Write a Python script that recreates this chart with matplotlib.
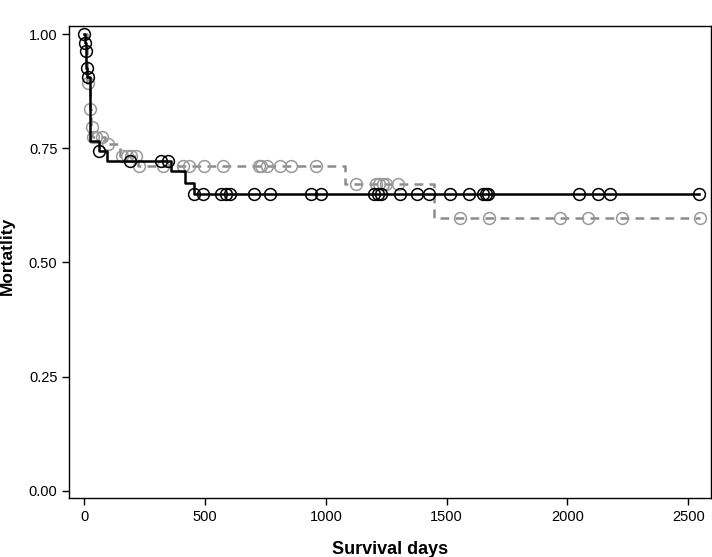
import matplotlib
matplotlib.use("Agg")
import matplotlib.pyplot as plt
import numpy as np

plt.rcParams['font.family'] = ['Liberation Sans', 'DejaVu Sans']

# group 1 (solid black): step times / survival after each step
g1_times = [0, 3, 6, 9, 12, 25, 60, 94, 357, 415, 453]
g1_surv = [1.0, 0.981, 0.963, 0.925, 0.905, 0.766, 0.744, 0.723, 0.699, 0.673, 0.65]
g1_end = 2543
g1_censor = [1, 4, 7, 10, 14, 63, 188, 318, 345, 456, 492, 564, 585, 602, 702, 767,
             940, 981, 1200, 1216, 1227, 1307, 1379, 1428, 1513, 1594, 1649, 1662,
             1672, 2047, 2125, 2176, 2543]

# group 2 (dashed grey)
g2_times = [0, 12, 22, 28, 33, 85, 149, 224, 1078, 1446]
g2_surv = [1.0, 0.892, 0.835, 0.797, 0.775, 0.759, 0.733, 0.711, 0.671, 0.597]
g2_end = 2550
g2_censor = [17, 24, 30, 38, 50, 73, 100, 156, 177, 193, 215, 228, 325, 409, 432, 497,
             573, 723, 730, 757, 810, 854, 960, 1124, 1207, 1221, 1235, 1249, 1297,
             1556, 1676, 1971, 2084, 2225, 2550]


def surv_at(times, surv, t):
    idx = np.searchsorted(times, t, side='right') - 1
    return np.array(surv)[idx]


fig = plt.figure(figsize=(7.12, 5.57), dpi=100)
ax = fig.add_axes([0.0973, 0.1054, 0.9013, 0.8479])

grey = '#8c8c8c'
x2 = g2_times + [g2_end]
y2 = g2_surv + [g2_surv[-1]]
ax.step(x2, y2, where='post', color=grey, lw=1.8, ls=(0, (3.5, 2.5)))
ax.plot(g2_censor, surv_at(g2_times, g2_surv, g2_censor), 'o', ms=8.5,
        mfc='none', mec='#999999', mew=1.1, ls='none')

x1 = g1_times + [g1_end]
y1 = g1_surv + [g1_surv[-1]]
ax.step(x1, y1, where='post', color='black', lw=1.8)
ax.plot(g1_censor, surv_at(g1_times, g1_surv, g1_censor), 'o', ms=8.5,
        mfc='none', mec='black', mew=1.1, ls='none')

ax.set_xlim(-62, 2594)
ax.set_ylim(-0.0166, 1.0175)
ax.set_xticks([0, 500, 1000, 1500, 2000, 2500])
ax.set_yticks([0, 0.25, 0.5, 0.75, 1.0])
ax.set_yticklabels(['0.00', '0.25', '0.50', '0.75', '1.00'])
ax.tick_params(labelsize=10.5, length=5, width=1, direction='out', colors='black')
for s in ax.spines.values():
    s.set_linewidth(1.0)
    s.set_color('black')

ax.set_xlabel('Survival days', fontsize=13, fontweight='bold', labelpad=12)
ax.set_ylabel('Mortatlity', fontsize=12.5, fontweight='bold')
ax.yaxis.set_label_coords(-0.085, 0.513)

fig.savefig('out.png', dpi=100)
plt.close(fig)
